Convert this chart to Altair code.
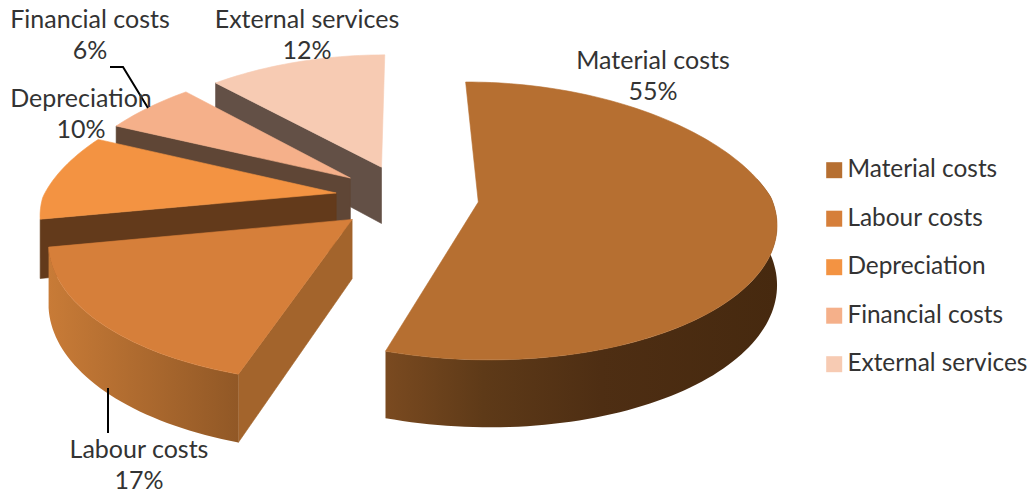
import math
import altair as alt
import pandas as pd

# Cost structure shares, in percent
categories = ["Material costs", "Labour costs", "Depreciation", "Financial costs", "External services"]
shares = [55, 17, 10, 6, 12]
top_colors = ["#B66F31", "#D67F3A", "#F39342", "#F5B08A", "#F7CBB3"]
wall_colors = [None, "#A3642C", "#633A1B", "#5F4636", "#635046"]

W, H = 1030, 493
FONT = "Lato"
TEXT_COLOR = "#333333"
FONT_SIZE = 25

# Perspective view of the exploded pie
CX, CY, RX, RY, PERSP, PERSP_FAR_X = 407, 197, 293, 135, 0.135, 0.2
EXPLODE, DEPTH, START = 0.245, 58, -0.2


def project(wx, wy, drop=0.0):
    s = 1 / (1 + PERSP * wy)
    sx = 1 / (1 + PERSP_FAR_X * wy) if wy > 0 else s
    return CX + RX * wx * sx, CY - RY * wy * s + drop * s


def slice_frame(i):
    a0 = START + 3.6 * sum(shares[:i])
    a1 = a0 + 3.6 * shares[i]
    mid = math.radians((a0 + a1) / 2)
    return a0, a1, EXPLODE * math.sin(mid), EXPLODE * math.cos(mid)


def arc_points(i, a0, a1, drop=0.0):
    _, _, ox, oy = slice_frame(i)
    n = max(2, int(abs(a1 - a0) / 1.5))
    pts = []
    for k in range(n + 1):
        a = math.radians(a0 + (a1 - a0) * k / n)
        pts.append(project(ox + math.sin(a), oy + math.cos(a), drop))
    return pts


def apex(i, drop=0.0):
    _, _, ox, oy = slice_frame(i)
    return project(ox, oy, drop)


def polygon_layer(points, fill, stroke_width=0.6):
    pts = list(points) + [points[0]]
    frame = pd.DataFrame({"x": [p[0] for p in pts], "y": [p[1] for p in pts], "seq": range(len(pts))})
    stroke = fill if isinstance(fill, str) else "#5a3517"
    width = stroke_width if isinstance(fill, str) else 0
    return (
        alt.Chart(frame)
        .mark_line(fill=fill, stroke=stroke, strokeWidth=width)
        .encode(
            x=alt.X("x:Q", scale=X_SCALE, axis=None),
            y=alt.Y("y:Q", scale=Y_SCALE, axis=None),
            order=alt.Order("seq:Q"),
        )
    )


def side_gradient(stops):
    return alt.LinearGradient(
        gradient="linear", x1=0, x2=1, y1=0, y2=0,
        stops=[alt.GradientStop(offset=o, color=c) for o, c in stops],
    )


def radial_wall(i, angle):
    _, _, ox, oy = slice_frame(i)
    a = math.radians(angle)
    rim = (ox + math.sin(a), oy + math.cos(a))
    return [apex(i), project(*rim), project(*rim, DEPTH), apex(i, DEPTH)]


def rim_band(i, a0, a1):
    return arc_points(i, a0, a1) + arc_points(i, a1, a0, DEPTH)


X_SCALE = alt.Scale(domain=[0, W], nice=False, zero=False)
Y_SCALE = alt.Scale(domain=[H, 0], nice=False, zero=False)

layers = []

# Slices are painted from the back of the pie to the front
for i in [4, 3, 2]:
    a0, a1, _, _ = slice_frame(i)
    layers.append(polygon_layer(radial_wall(i, a0), wall_colors[i]))
    layers.append(polygon_layer([apex(i)] + arc_points(i, a0, a1), top_colors[i]))

# Labour costs: cut face, curved rim and top
a0, a1, _, _ = slice_frame(1)
layers.append(polygon_layer(radial_wall(1, a0), wall_colors[1]))
layers.append(polygon_layer(rim_band(1, a0, a1), side_gradient([(0, "#C87B37"), (1, "#915826")])))
layers.append(polygon_layer([apex(1)] + arc_points(1, a0, a1), top_colors[1]))

# Material costs: curved rim and top
a0, a1, _, _ = slice_frame(0)
layers.append(polygon_layer(rim_band(0, 80, a1),
                            side_gradient([(0, "#7A4A20"), (0.25, "#5E3A18"), (0.55, "#4E2E13"), (1, "#46290F")])))
layers.append(polygon_layer([apex(0)] + arc_points(0, a0, a1), top_colors[0]))

# Leader lines from the outer labels to their slices
leaders = [
    [(108, 388), (108, 433)],
    [(110, 67), (123, 67), (148, 108)],
]
for path in leaders:
    frame = pd.DataFrame({"x": [p[0] for p in path], "y": [p[1] for p in path], "seq": range(len(path))})
    layers.append(
        alt.Chart(frame).mark_line(color="#000000", strokeWidth=2).encode(
            x=alt.X("x:Q", scale=X_SCALE, axis=None),
            y=alt.Y("y:Q", scale=Y_SCALE, axis=None),
            order=alt.Order("seq:Q"),
        )
    )

# Two-line data labels: category name over its share
label_anchor = {
    "Material costs": (653, 61),
    "Labour costs": (139, 450),
    "Depreciation": (81, 99),
    "Financial costs": (90, 20),
    "External services": (307, 20),
}
label_rows = []
for name, share in zip(categories, shares):
    ax, ay = label_anchor[name]
    label_rows.append({"x": ax, "y": ay, "text": name})
    label_rows.append({"x": ax, "y": ay + 31, "text": f"{share}%"})
layers.append(
    alt.Chart(pd.DataFrame(label_rows))
    .mark_text(font=FONT, fontSize=FONT_SIZE, color=TEXT_COLOR, align="center", baseline="middle")
    .encode(
        x=alt.X("x:Q", scale=X_SCALE, axis=None),
        y=alt.Y("y:Q", scale=Y_SCALE, axis=None),
        text="text:N",
    )
)

# Legend keyed on the slice colours
legend_frame = pd.DataFrame({"category": categories, "x": [0] * 5, "y": [0] * 5})
layers.append(
    alt.Chart(legend_frame)
    .mark_square(size=0, opacity=1)
    .encode(
        x=alt.X("x:Q", scale=X_SCALE, axis=None),
        y=alt.Y("y:Q", scale=Y_SCALE, axis=None),
        fill=alt.Fill(
            "category:N",
            scale=alt.Scale(domain=categories, range=top_colors),
            legend=alt.Legend(
                title=None,
                orient="none",
                legendX=822,
                legendY=158,
                symbolType="square",
                symbolSize=256,
                symbolStrokeWidth=0,
                symbolOpacity=1,
                labelFont=FONT,
                labelFontSize=24.4,
                labelColor=TEXT_COLOR,
                labelOffset=1,
                rowPadding=23.5,
                labelLimit=220,
            ),
        ),
    )
)

chart = (
    alt.layer(*layers)
    .properties(width=W, height=H, padding=0, background="#FFFFFF", autosize=alt.AutoSizeParams(type="none"))
    .configure_view(stroke=None)
)

chart.save("out.html", embed_options={"renderer": "svg", "actions": False})
